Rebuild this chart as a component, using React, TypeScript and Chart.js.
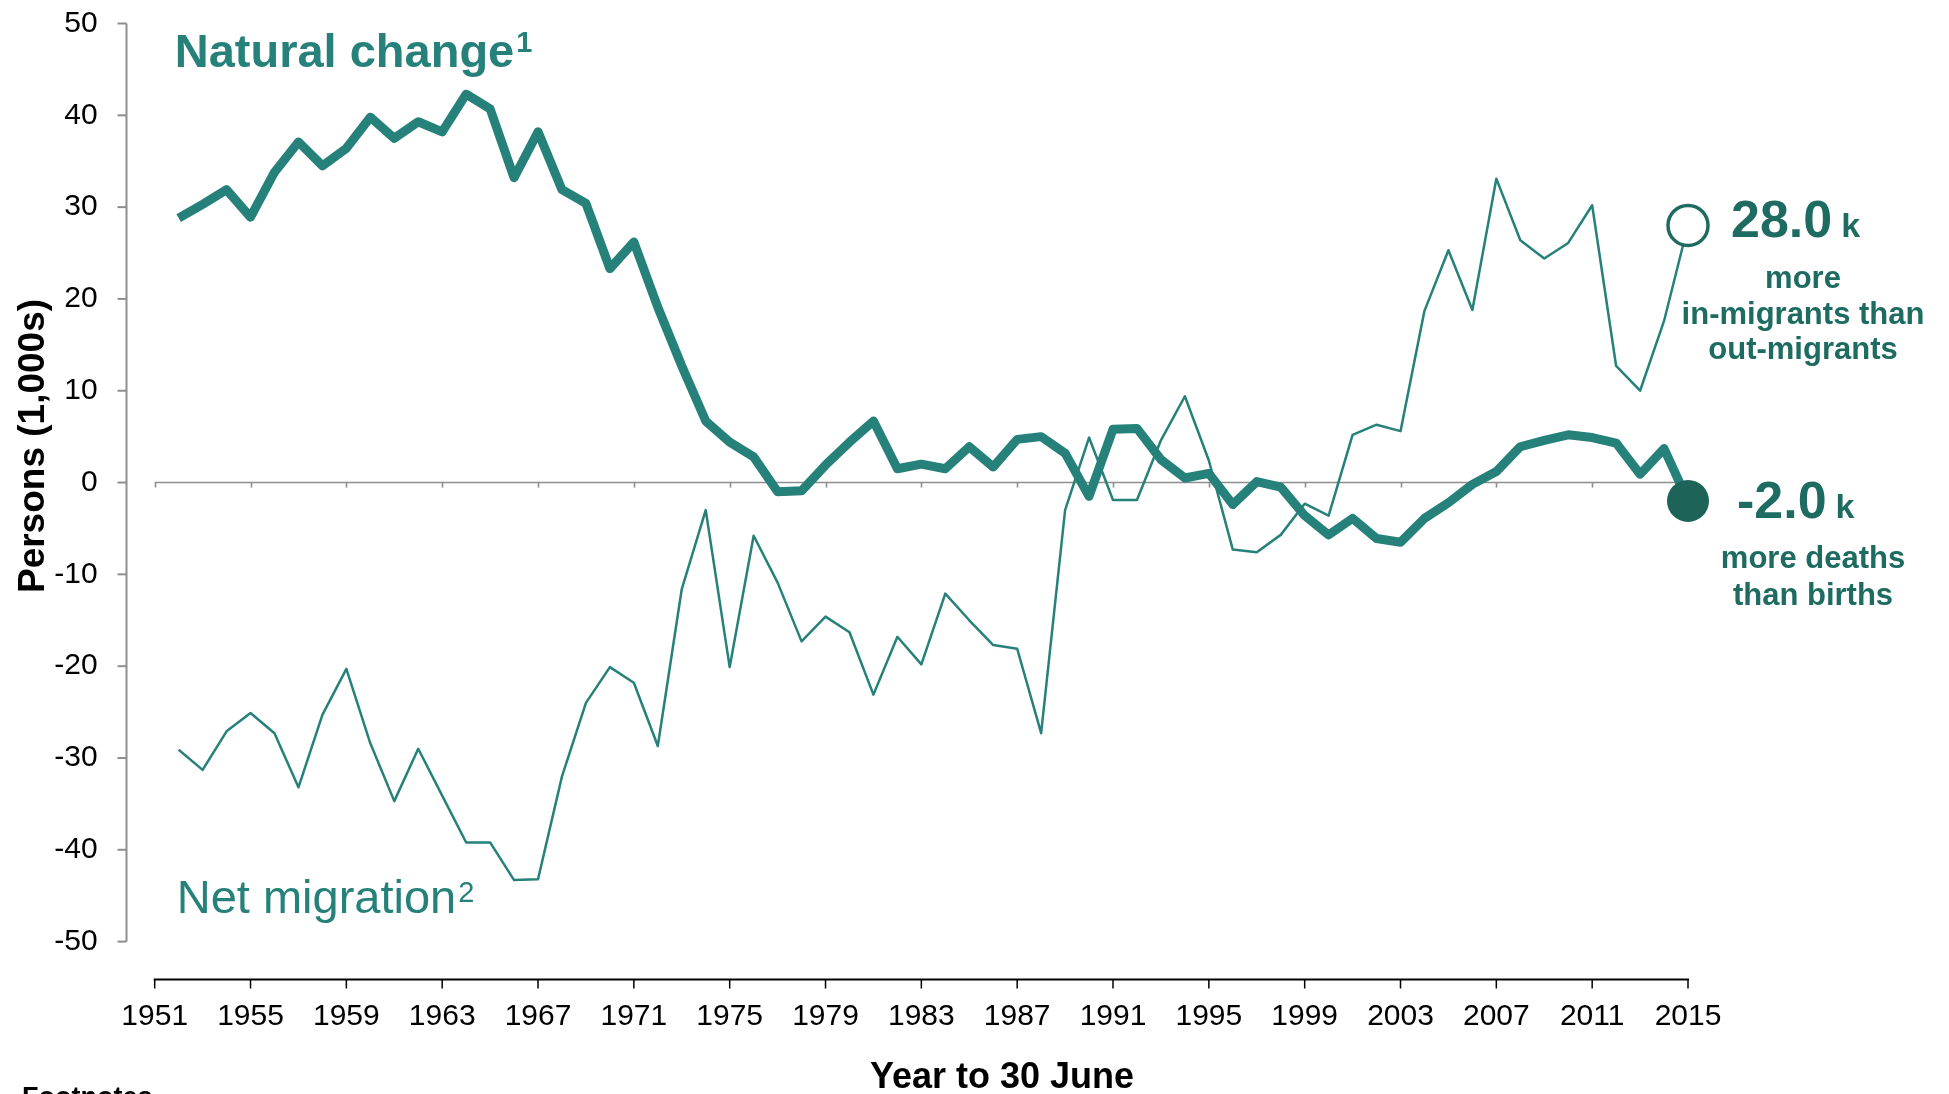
import React, { useEffect, useRef } from 'react';
import { Chart, registerables } from 'chart.js';

Chart.register(...registerables);

// ---------------- data ----------------
const years = [
  1952, 1953, 1954, 1955, 1956, 1957, 1958, 1959, 1960, 1961, 1962, 1963, 1964, 1965, 1966, 1967,
  1968, 1969, 1970, 1971, 1972, 1973, 1974, 1975, 1976, 1977, 1978, 1979, 1980, 1981, 1982, 1983,
  1984, 1985, 1986, 1987, 1988, 1989, 1990, 1991, 1992, 1993, 1994, 1995, 1996, 1997, 1998, 1999,
  2000, 2001, 2002, 2003, 2004, 2005, 2006, 2007, 2008, 2009, 2010, 2011, 2012, 2013, 2014, 2015,
];

// Natural change (1,000s)
const naturalChange = [
  28.8, 30.3, 31.9, 28.9, 33.8, 37.1, 34.5, 36.4, 39.8, 37.5, 39.3, 38.2, 42.3, 40.7, 33.2, 38.2,
  31.9, 30.4, 23.3, 26.2, 19.1, 12.7, 6.7, 4.4, 2.8, -1.0, -0.9, 1.9, 4.4, 6.7, 1.5, 2.0,
  1.5, 3.9, 1.7, 4.7, 5.0, 3.2, -1.5, 5.8, 5.9, 2.5, 0.5, 1.0, -2.4, 0.1, -0.5, -3.6,
  -5.7, -3.9, -6.1, -6.5, -3.9, -2.2, -0.2, 1.2, 3.9, 4.6, 5.2, 4.9, 4.3, 0.9, 3.7, -2.0,
];

// Net migration (1,000s)
const netMigration = [
  -29.1, -31.3, -27.1, -25.1, -27.3, -33.2, -25.3, -20.3, -28.4, -34.7, -29.0, -34.1, -39.2, -39.2, -43.3, -43.2,
  -32.0, -24.0, -20.1, -21.8, -28.7, -11.6, -3.0, -20.1, -5.8, -10.9, -17.3, -14.6, -16.3, -23.1, -16.8, -19.8,
  -12.1, -15.0, -17.7, -18.1, -27.3, -3.0, 4.9, -1.9, -1.9, 4.6, 9.4, 2.4, -7.3, -7.6, -5.7, -2.3,
  -3.6, 5.2, 6.3, 5.6, 18.7, 25.3, 18.8, 33.1, 26.4, 24.4, 26.1, 30.2, 12.7, 10.0, 17.6, 28.0,
];

const xTickYears = [1951, 1955, 1959, 1963, 1967, 1971, 1975, 1979, 1983, 1987, 1991, 1995, 1999, 2003, 2007, 2011, 2015];
const yTickValues = [-50, -40, -30, -20, -10, 0, 10, 20, 30, 40, 50];

// ---------------- style ----------------
const FONT = "'Liberation Sans', Arial, Helvetica, sans-serif";
const TEAL = '#25817a';
const DARK = '#1e6b61';
const DOT = '#1d6358';
const AXIS_GRAY = '#8e8e8e';

export default function App() {
  const ref = useRef<HTMLCanvasElement>(null);

  useEffect(() => {
    document.body.style.margin = '0';
    const canvas = ref.current;
    if (!canvas) return;
    const last = years.length - 1;

    const line = (ctx: CanvasRenderingContext2D, x1: number, y1: number, x2: number, y2: number) => {
      ctx.beginPath();
      ctx.moveTo(x1, y1);
      ctx.lineTo(x2, y2);
      ctx.stroke();
    };

    const decor = {
      id: 'decor',
      beforeDatasetsDraw(chart: any) {
        const { ctx, chartArea: ca, scales } = chart;
        const x = scales.x;
        const y = scales.y;
        ctx.save();
        // zero line with small ticks
        const y0 = y.getPixelForValue(0);
        ctx.strokeStyle = AXIS_GRAY;
        ctx.lineWidth = 1.6;
        line(ctx, x.getPixelForValue(xTickYears[0]), y0, ca.right, y0);
        xTickYears.forEach((v) => {
          const px = Math.round(x.getPixelForValue(v)) + 0.5;
          line(ctx, px, y0, px, y0 + 5);
        });
        ctx.restore();
      },
      afterDraw(chart: any) {
        const { ctx, chartArea: ca, scales } = chart;
        const x = scales.x;
        const y = scales.y;
        ctx.save();

        // y axis (offset to the left of the plot)
        const yAxX = Math.round(ca.left - 29) + 0.5;
        ctx.strokeStyle = AXIS_GRAY;
        ctx.lineWidth = 2;
        line(ctx, yAxX, y.getPixelForValue(yTickValues[yTickValues.length - 1]), yAxX, y.getPixelForValue(yTickValues[0]));
        yTickValues.forEach((v) => {
          const py = y.getPixelForValue(v);
          line(ctx, yAxX - 9, py, yAxX, py);
        });

        // x axis (offset below the plot)
        const xAxY = Math.round(ca.bottom + 37) + 0.5;
        ctx.strokeStyle = '#000';
        ctx.lineWidth = 2;
        line(ctx, x.getPixelForValue(xTickYears[0]) - 1, xAxY, x.getPixelForValue(xTickYears[xTickYears.length - 1]) + 1, xAxY);
        ctx.lineWidth = 1.5;
        xTickYears.forEach((v) => {
          const px = x.getPixelForValue(v);
          line(ctx, px, xAxY, px, xAxY + 9);
        });

        // axis titles
        ctx.fillStyle = '#000';
        ctx.save();
        ctx.translate(34, 446);
        ctx.rotate(-Math.PI / 2);
        ctx.font = `bold 37px ${FONT}`;
        ctx.textAlign = 'center';
        ctx.textBaseline = 'middle';
        ctx.fillText('Persons (1,000s)', 0, 0);
        ctx.restore();

        ctx.font = `bold 36px ${FONT}`;
        ctx.textAlign = 'center';
        ctx.textBaseline = 'alphabetic';
        ctx.fillText('Year to 30 June', 1002, 1088);

        ctx.textAlign = 'left';
        ctx.font = `bold 27px ${FONT}`;
        ctx.fillText('Footnotes', 22, 1106);

        // series labels
        ctx.fillStyle = TEAL;
        ctx.font = `bold 47px ${FONT}`;
        const ncText = 'Natural change';
        const ncX = ca.left + 20;
        ctx.fillText(ncText, ncX, 67);
        const ncW = ctx.measureText(ncText).width;
        ctx.font = `bold 29px ${FONT}`;
        ctx.fillText('1', ncX + ncW + 2, 52);

        ctx.font = `47px ${FONT}`;
        const nmText = 'Net migration';
        const nmX = ca.left + 22;
        ctx.fillText(nmText, nmX, 913);
        const nmW = ctx.measureText(nmText).width;
        ctx.font = `29px ${FONT}`;
        ctx.fillText('2', nmX + nmW + 2, 902);

        // end-point annotations
        const px = x.getPixelForValue(years[last]);
        const pyM = y.getPixelForValue(netMigration[last]);
        const pyN = y.getPixelForValue(naturalChange[last]);
        ctx.fillStyle = DARK;
        ctx.textAlign = 'left';

        ctx.font = `bold 52px ${FONT}`;
        const mTxt = netMigration[last].toFixed(1);
        ctx.fillText(mTxt, px + 43, pyM + 12);
        const mW = ctx.measureText(mTxt).width;
        ctx.font = `bold 34px ${FONT}`;
        ctx.fillText('k', px + 43 + mW + 9, pyM + 12);

        ctx.font = `bold 52px ${FONT}`;
        const nTxt = naturalChange[last].toFixed(1);
        ctx.fillText(nTxt, px + 49, pyN + 17);
        const nW = ctx.measureText(nTxt).width;
        ctx.font = `bold 34px ${FONT}`;
        ctx.fillText('k', px + 49 + nW + 9, pyN + 17);

        ctx.font = `bold 31px ${FONT}`;
        ctx.textAlign = 'center';
        ctx.textBaseline = 'middle';
        ctx.fillText('more', px + 115, pyM + 54);
        ctx.fillText('in-migrants than', px + 115, pyM + 90);
        ctx.fillText('out-migrants', px + 115, pyM + 125);
        ctx.fillText('more deaths', px + 125, pyN + 59);
        ctx.fillText('than births', px + 125, pyN + 96);

        ctx.restore();
      },
    };

    const chart = new Chart(canvas, {
      type: 'line',
      data: {
        datasets: [
          {
            label: 'Net migration',
            data: years.map((yr, i) => ({ x: yr, y: netMigration[i] })),
            borderColor: TEAL,
            borderWidth: 2.5,
            borderJoinStyle: 'round',
            tension: 0,
            clip: false,
            order: 0,
            pointRadius: (c: any) => (c.dataIndex === last ? 20 : 0),
            pointBackgroundColor: '#ffffff',
            pointBorderColor: DARK,
            pointBorderWidth: 3.5,
            pointHoverRadius: 0,
          },
          {
            label: 'Natural change',
            data: years.map((yr, i) => ({ x: yr, y: naturalChange[i] })),
            borderColor: TEAL,
            borderWidth: 9,
            borderJoinStyle: 'round',
            borderCapStyle: 'butt',
            tension: 0,
            clip: false,
            order: 1,
            pointRadius: (c: any) => (c.dataIndex === last ? 21 : 0),
            pointBackgroundColor: DOT,
            pointBorderColor: DOT,
            pointBorderWidth: 0,
            pointHoverRadius: 0,
          },
        ],
      } as any,
      options: {
        responsive: false,
        animation: false,
        devicePixelRatio: 1,
        events: [],
        layout: { padding: { top: 23, right: 261, left: 0, bottom: 0 } },
        plugins: { legend: { display: false }, tooltip: { enabled: false }, title: { display: false } },
        scales: {
          x: {
            type: 'linear',
            min: xTickYears[0],
            max: xTickYears[xTickYears.length - 1],
            afterBuildTicks: (s: any) => {
              s.ticks = xTickYears.map((v) => ({ value: v }));
            },
            afterFit: (s: any) => {
              s.height = 152.4;
            },
            grid: { display: false, drawTicks: true, tickLength: 54 },
            border: { display: false },
            ticks: {
              autoSkip: false,
              maxRotation: 0,
              padding: 3,
              color: '#000',
              font: { family: FONT, size: 30 },
              callback: (v: any) => String(v),
            },
          },
          y: {
            min: yTickValues[0],
            max: yTickValues[yTickValues.length - 1],
            afterBuildTicks: (s: any) => {
              s.ticks = yTickValues.map((v) => ({ value: v }));
            },
            afterFit: (s: any) => {
              s.width = 154.7;
            },
            grid: { display: false, drawTicks: true, tickLength: 54 },
            border: { display: false },
            ticks: {
              padding: 3,
              color: '#000',
              font: { family: FONT, size: 30 },
              callback: (v: any) => String(v),
            },
          },
        },
      } as any,
      plugins: [decor],
    });

    return () => chart.destroy();
  }, []);

  return (
    <div style={{ position: 'absolute', left: 0, top: 0, width: 1949, height: 1094, overflow: 'hidden', background: '#fff' }}>
      <canvas ref={ref} width={1949} height={1094} style={{ display: 'block' }} />
    </div>
  );
}
